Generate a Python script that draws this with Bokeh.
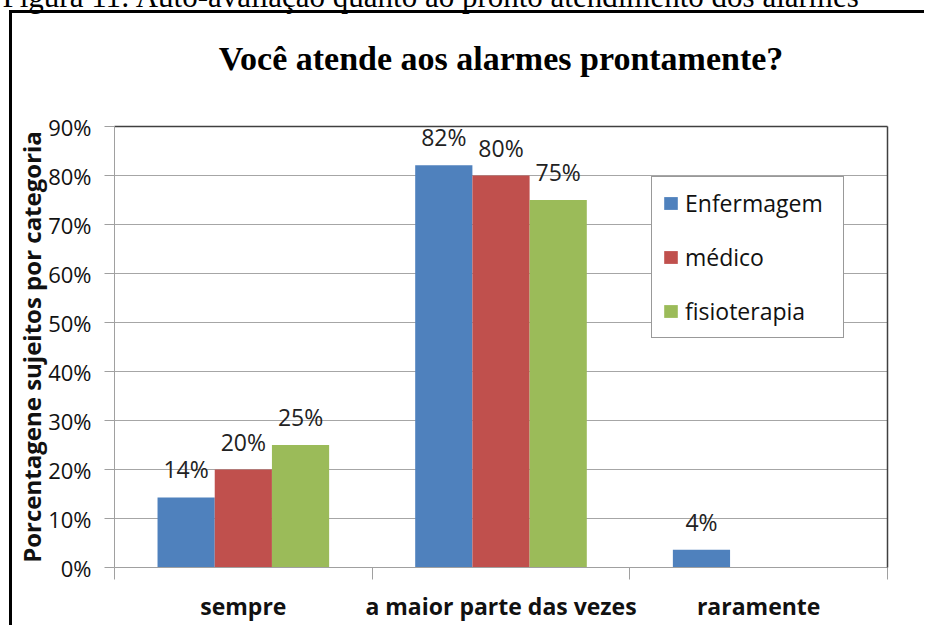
from bokeh.plotting import figure
from bokeh.models import (ColumnDataSource, Range1d, LinearAxis, FixedTicker, PrintfTickFormatter,
                          Legend, LegendItem, LabelSet, Title, Grid)
from bokeh.transform import dodge
from bokeh.core.properties import value
from bokeh.embed import file_html
from bokeh.resources import INLINE

# ---------------- data ----------------
categories = ["sempre", "a maior parte das vezes", "raramente"]
series_names = ["Enfermagem", "médico", "fisioterapia"]
enfermagem = [14.3, 82.1, 3.6]
medico = [20.0, 80.0, 0.0]
fisioterapia = [25.0, 75.0, 0.0]
y_ticks = [0, 10, 20, 30, 40, 50, 60, 70, 80, 90]
title_text = "Você atende aos alarmes prontamente?"
caption_text = "Figura 11: Auto-avaliação quanto ao pronto atendimento dos alarmes"
y_label = "Porcentagene sujeitos por categoria"

colors = ["#4F81BD", "#C0504D", "#9BBB59"]
FONT = "Open Sans"

MT = 60                 # canvas rows hidden above the page top
W, H = 924, 625 + MT
FL, FR = 114, 887       # frame left/right (page px)
FT, FB = 126 + MT, 567 + MT   # frame top/bottom (canvas px)

p = figure(width=W, height=H, output_backend="svg", toolbar_location=None,
           x_range=Range1d(0, len(categories)), y_range=Range1d(y_ticks[0], y_ticks[-1]),
           min_border_left=FL, min_border_right=W - FR, min_border_top=FT,
           min_border_bottom=H - FB, x_axis_type=None, y_axis_type=None,
           title_location=None)
p.styles = {
    "margin-top": "-%dpx" % MT,
    "background-color": "white",
    "background-image": "linear-gradient(#000, #000), linear-gradient(#000, #000)",
    "background-size": "3px 100%, 100% 3px",
    "background-position": "9px %dpx, 9px %dpx" % (10 + MT, 10 + MT),
    "background-repeat": "no-repeat",
}
p.outline_line_color = None
p.background_fill_color = "white"
p.border_fill_alpha = 0

x_centers = [i + 0.5 for i in range(len(categories))]
x_bounds = list(range(len(categories) + 1))

# axes
yaxis = LinearAxis(ticker=FixedTicker(ticks=y_ticks), formatter=PrintfTickFormatter(format="%d%%"))
yaxis.axis_label = y_label
yaxis.axis_label_text_font = FONT
yaxis.axis_label_text_font_style = "bold"
yaxis.axis_label_text_font_size = "24px"
yaxis.axis_label_text_color = "#111111"
yaxis.axis_label_standoff = -3
yaxis.major_label_text_font = FONT
yaxis.major_label_text_font_size = "22px"
yaxis.major_label_text_color = "#111111"
yaxis.major_label_standoff = 13
yaxis.major_tick_out = 10
yaxis.major_tick_in = 0
yaxis.major_tick_line_color = "#a0a0a0"
yaxis.axis_line_color = "#a0a0a0"
yaxis.minor_tick_line_color = None
p.add_layout(yaxis, "left")

xaxis = LinearAxis(ticker=FixedTicker(ticks=x_centers, minor_ticks=x_bounds))
xaxis.major_label_overrides = {c: lab for c, lab in zip(x_centers, categories)}
xaxis.major_label_text_font = FONT
xaxis.major_label_text_font_style = "bold"
xaxis.major_label_text_font_size = "23px"
xaxis.major_label_text_color = "#111111"
xaxis.major_tick_line_color = None
xaxis.major_tick_out = 11
xaxis.major_tick_in = 0
xaxis.major_label_standoff = 10
xaxis.minor_tick_out = 12
xaxis.minor_tick_in = 0
xaxis.minor_tick_line_color = "#a0a0a0"
xaxis.axis_line_color = "#a0a0a0"
p.add_layout(xaxis, "below")

for place in ("above", "right"):
    ax = LinearAxis(ticker=FixedTicker(ticks=[]))
    ax.axis_line_color = "#404040"
    ax.axis_line_width = 1.5
    ax.major_tick_line_color = None
    ax.minor_tick_line_color = None
    ax.major_label_text_font_size = "0px"
    p.add_layout(ax, place)

p.add_layout(Grid(dimension=1, ticker=FixedTicker(ticks=y_ticks[1:-1]),
                  grid_line_color="#a6a6a6", grid_line_width=1))

# bars
src = ColumnDataSource(dict(x=x_centers, cat=categories, s0=enfermagem, s1=medico, s2=fisioterapia))
bw = 0.222
offsets = [-bw, 0.0, bw]
renderers = []
for k, (name, col) in enumerate(zip(series_names, colors)):
    r = p.vbar(x=dodge("x", offsets[k]), top="s%d" % k, width=bw, source=src,
               fill_color=col, line_color=None)
    renderers.append(r)
    vals = [enfermagem, medico, fisioterapia][k]
    lx = [x for x, v in zip(x_centers, vals) if v > 0]
    ly = [v for v in vals if v > 0]
    lt = ["%d%%" % round(v) for v in ly]
    lsrc = ColumnDataSource(dict(x=lx, y=ly, t=lt))
    p.add_layout(LabelSet(x=dodge("x", offsets[k]), y="y", text="t", source=lsrc,
                          y_offset=28, text_align="center", text_baseline="middle",
                          text_font=value(FONT), text_font_size=value("23px"),
                          text_color="#222222"))

legend = Legend(items=[LegendItem(label=n, renderers=[r]) for n, r in zip(series_names, renderers)],
                location=(651 - FL, 567 - 338))
legend.label_text_font = FONT
legend.label_text_font_size = "23px"
legend.label_text_color = "#111111"
legend.label_width = 148
legend.glyph_width = 17
legend.glyph_height = 16
legend.label_standoff = 6
legend.spacing = 22
legend.padding = 10
legend.margin = 0
legend.border_line_color = "#333333"
legend.border_line_width = 1.5
legend.background_fill_color = "white"
legend.background_fill_alpha = 1.0
p.add_layout(legend)

# spacer between frame and title, then the title, then the caption (cut at page top)
p.add_layout(Title(text=" ", text_font_size="1px", standoff=47), "above")
p.add_layout(Title(text=title_text, align="center", text_font="Liberation Serif",
                   text_font_style="bold", text_font_size="34px", text_color="black",
                   standoff=0), "above")
p.add_layout(Title(text=caption_text, align="left", offset=2 - FL, text_font="Liberation Serif",
                   text_font_style="normal", text_font_size="31px", text_color="black",
                   standoff=48), "above")

open("out.html", "w").write(file_html(p, INLINE))
